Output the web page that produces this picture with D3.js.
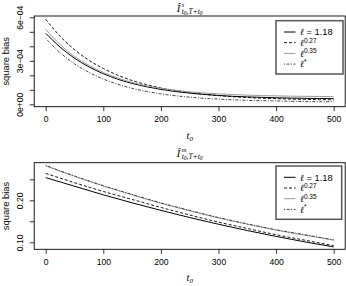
<!DOCTYPE html>
<html><head><meta charset="utf-8">
<script src="https://cdn.jsdelivr.net/npm/d3@7"></script>
<style>
html,body{margin:0;padding:0;background:#fff;}
svg{display:block;}
text{font-family:"Liberation Sans",Arial,Helvetica,sans-serif;fill:#000;}
.serif{font-family:"Liberation Serif","DejaVu Serif",serif;font-style:italic;}
</style></head>
<body>
<script>
// ---------- data ----------
const t0Top = [0,25,50,75,100,125,150,175,200,225,250,275,300,325,350,375,400,425,450,475,500];
const topL118 = [4.90e-4,3.94e-4,3.18e-4,2.58e-4,2.11e-4,1.73e-4,1.44e-4,1.21e-4,1.03e-4,8.8e-5,7.7e-5,6.8e-5,6.1e-5,5.5e-5,5.1e-5,4.8e-5,4.5e-5,4.3e-5,4.1e-5,4.0e-5,3.9e-5];
const topL027 = [5.86e-4,4.69e-4,3.77e-4,3.04e-4,2.47e-4,2.01e-4,1.64e-4,1.36e-4,1.13e-4,9.5e-5,8.0e-5,6.9e-5,6.0e-5,5.2e-5,4.7e-5,4.2e-5,3.9e-5,3.6e-5,3.4e-5,3.2e-5,3.1e-5];
const topL035 = [5.17e-4,4.12e-4,3.30e-4,2.68e-4,2.19e-4,1.81e-4,1.51e-4,1.28e-4,1.11e-4,9.7e-5,8.6e-5,7.8e-5,7.2e-5,6.7e-5,6.3e-5,6.0e-5,5.8e-5,5.6e-5,5.5e-5,5.4e-5,5.3e-5];
const topLstar = [4.55e-4,3.56e-4,2.79e-4,2.20e-4,1.74e-4,1.38e-4,1.10e-4,8.9e-5,7.2e-5,5.9e-5,4.9e-5,4.1e-5,3.6e-5,3.1e-5,2.7e-5,2.5e-5,2.3e-5,2.1e-5,1.9e-5,1.8e-5,1.8e-5];

const t0Bot = [0,50,100,150,200,250,300,350,400,450,500];
const botL118 = [0.254,0.2335,0.213,0.194,0.176,0.159,0.143,0.128,0.114,0.101,0.089];
const botL027 = [0.264,0.242,0.221,0.202,0.183,0.165,0.148,0.133,0.118,0.105,0.092];
const botL035 = [0.282,0.257,0.234,0.213,0.193,0.175,0.158,0.143,0.129,0.117,0.105];
const botLstar = [0.283,0.258,0.235,0.214,0.194,0.176,0.159,0.144,0.130,0.118,0.106];

const xTicks = [0,100,200,300,400,500];
const yTicksTop = [0,1e-4,2e-4,3e-4,4e-4,5e-4,6e-4];
const yLabelsTop = ["0e+00","","","3e\u221204","","","6e\u221204"];
const yTicksBot = [0.10,0.15,0.20,0.25];
const yLabelsBot = ["0.10","","0.20",""];

const seriesStyles = [
  {color:"#000", dash:null, w:1},
  {color:"#000", dash:"3,2", w:0.9},
  {color:"#9a9a9a", dash:null, w:1},
  {color:"#333", dash:"1,1.5,3,1.5", w:0.9}
];

const W = 346, H = 286;
const svg = d3.select("body").append("svg").attr("width",W).attr("height",H);

const x = d3.scaleLinear().domain([-20,520]).range([34.2,345.2]);

function panel(cfg){
  const g = svg.append("g");
  const y = cfg.y;
  const [bt,bb] = cfg.box;
  const line = d3.line().x((d,i)=>x(cfg.t[i])).y(d=>y(d)).curve(d3.curveMonotoneX);
  cfg.series.forEach((s,k)=>{
    const st = seriesStyles[k];
    g.append("path").attr("d",line(s)).attr("fill","none")
      .attr("stroke",st.color).attr("stroke-width",st.w)
      .attr("stroke-dasharray",st.dash);
  });
  g.append("rect").attr("x",x.range()[0]).attr("y",bt)
    .attr("width",x.range()[1]-x.range()[0]).attr("height",bb-bt)
    .attr("fill","none").attr("stroke","#000").attr("stroke-width",0.9);
  // x axis
  const xa = g.append("g").attr("transform",`translate(0,${bb})`)
    .call(d3.axisBottom(x).tickValues(xTicks).tickSize(4.5).tickSizeOuter(0).tickPadding(5));
  xa.select(".domain").remove();
  xa.selectAll("line").attr("stroke","#000").attr("stroke-width",0.8);
  xa.selectAll("text").attr("font-size","8.6px").attr("fill","#000")
    .attr("font-family","Liberation Sans, Arial, sans-serif");
  // y axis
  const ya = g.append("g").attr("transform",`translate(${x.range()[0]},0)`)
    .call(d3.axisLeft(y).tickValues(cfg.yt).tickSize(4.5).tickSizeOuter(0)
      .tickFormat((d,i)=>cfg.yl[i]));
  ya.select(".domain").remove();
  ya.selectAll("line").attr("stroke","#000").attr("stroke-width",0.8);
  ya.selectAll("text").attr("font-size","8.6px").attr("fill","#000")
    .attr("font-family","Liberation Sans, Arial, sans-serif")
    .attr("text-anchor","middle").attr("dy",null).attr("x",0).attr("y",0)
    .attr("transform","translate(-11,0) rotate(-90)");
  // y title
  g.append("text").attr("transform",`translate(9,${(bt+bb)/2}) rotate(-90)`)
    .attr("text-anchor","middle").attr("font-size","9.4px").text("square bias");
  // x title
  const xt = g.append("text").attr("x",x(250)).attr("y",bb+32).attr("text-anchor","middle")
    .attr("class","serif").attr("font-size","10.5px");
  xt.append("tspan").text("t");
  xt.append("tspan").attr("dy",2).attr("font-size","7px").text("0");
  // title: I-hat with superscript and subscript
  const tx0 = x(250)-13;
  g.append("text").attr("x",tx0).attr("y",cfg.titleY)
    .attr("class","serif").attr("font-size","10.5px").text("\u00CE");
  g.append("text").attr("x",tx0+5).attr("y",cfg.titleY-4.5)
    .attr("class","serif").attr("font-size","6.5px").text(cfg.sup);
  const sb = g.append("text").attr("x",tx0+5).attr("y",cfg.titleY+2.5)
    .attr("class","serif").attr("font-size","7.5px");
  sb.append("tspan").text("t");
  sb.append("tspan").attr("dy",1.2).attr("font-size","5.5px").text("0");
  sb.append("tspan").attr("dy",-1.2).attr("font-size","7.5px").text(",T+t");
  sb.append("tspan").attr("dy",1.2).attr("font-size","5.5px").text("0");
  // legend
  const lx0 = 276, lx1 = cfg.legRight, ly0 = cfg.legTop, ly1 = cfg.legTop+53.3;
  g.append("rect").attr("x",lx0).attr("y",ly0).attr("width",lx1-lx0).attr("height",ly1-ly0)
    .attr("fill","#fff").attr("stroke","#555").attr("stroke-width",1.5);
  const labs = [["\u2113"," = 1.18",null],["\u2113","","0.27"],["\u2113","","0.35"],["\u2113","","*"]];
  labs.forEach((lb,k)=>{
    const st = seriesStyles[k];
    const yy = ly0 + 11.3 + k*10.7;
    g.append("line").attr("x1",lx0+8).attr("x2",lx0+19.5).attr("y1",yy).attr("y2",yy)
      .attr("stroke",st.color).attr("stroke-width",st.w).attr("stroke-dasharray",st.dash);
    const tx = g.append("text").attr("x",lx0+24).attr("y",yy+3.3).attr("font-size","9.3px");
    tx.append("tspan").attr("class","serif").text(lb[0]);
    if(lb[1]) tx.append("tspan").text(lb[1]);
    if(lb[2]) tx.append("tspan").attr("dy",-3.5).attr("font-size","6.5px").text(lb[2]);
  });
}

panel({
  t:t0Top, series:[topL118,topL027,topL035,topLstar],
  y:d3.scaleLinear().domain([0,6e-4]).range([104.3,17.3]),
  box:[16,106.7], yt:yTicksTop, yl:yLabelsTop,
  sup:"s", titleY:11.5, legTop:20.7, legRight:343
});
panel({
  t:t0Bot, series:[botL118,botL027,botL035,botLstar],
  y:d3.scaleLinear().domain([0.10,0.25]).range([242.3,179.3]),
  box:[162.7,249.3], yt:yTicksBot, yl:yLabelsBot,
  sup:"m", titleY:156.5, legTop:166, legRight:341.7
});
</script>
</body></html>
